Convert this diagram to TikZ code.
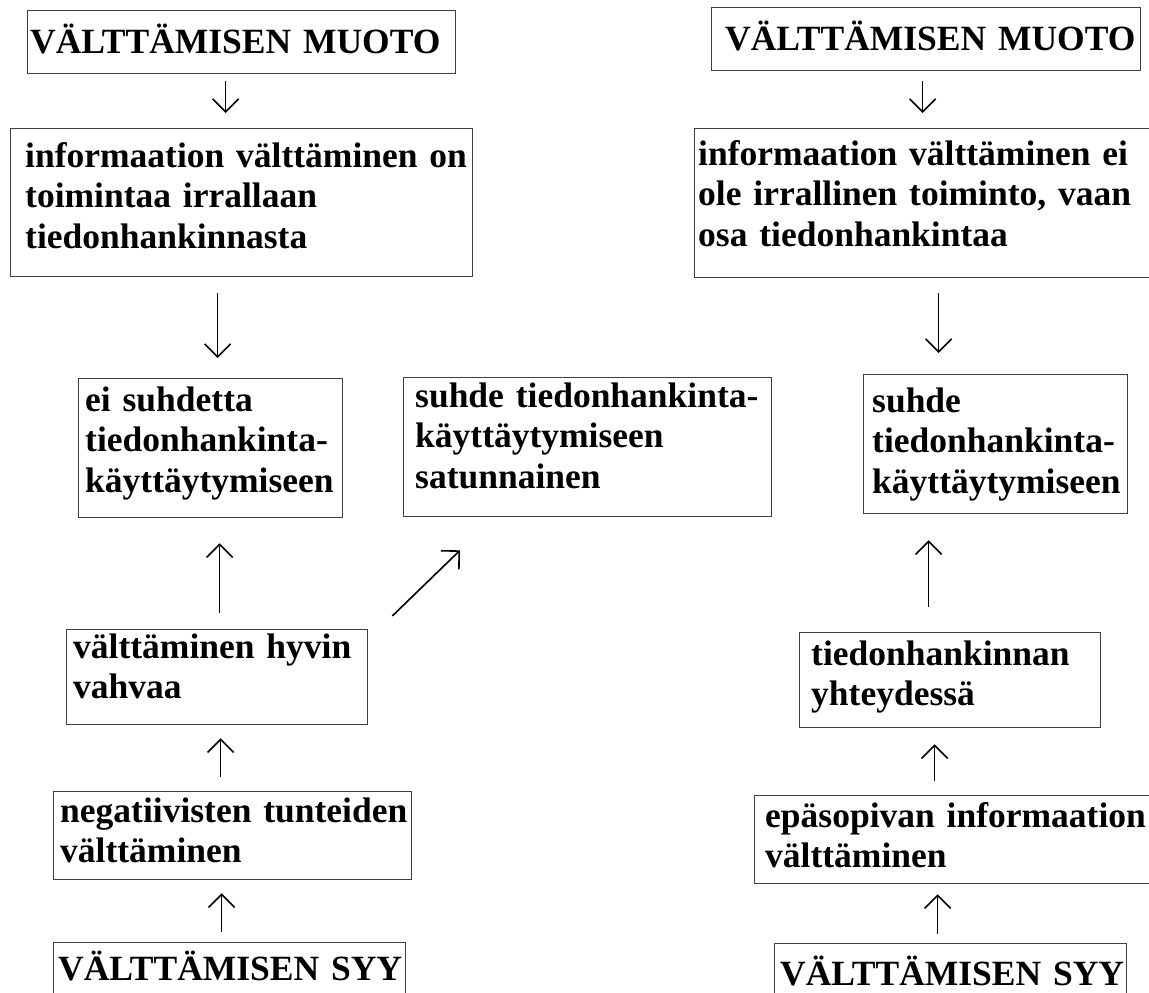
\documentclass[tikz,border=0pt]{standalone}
\usepackage{fontspec}
\setmainfont{Liberation Serif}
\usetikzlibrary{arrows.meta,calc}
\definecolor{frame}{RGB}{64,64,64}
\begin{document}
\begin{tikzpicture}[x=1pt,y=-1pt,
  box/.style={draw=frame,line width=1.3pt,inner sep=0pt,anchor=north west},
  words/.style={anchor=base west,inner sep=0pt,text width=520pt,align=left,
    font=\fontsize{35.5}{40.5}\selectfont\bfseries},
  arr/.style={line width=1.6pt,-{Straight Barb[length=13pt,width=26pt]}}]
\useasboundingbox (0,0) rectangle (1149,993);
\clip (0,0) rectangle (1149,993);

% left column: boxes
\node[box,minimum width=428pt,minimum height=63pt]  (m1) at (27,10)  {};
\node[box,minimum width=462pt,minimum height=148pt] (i1) at (10,128) {};
\node[box,minimum width=264pt,minimum height=139pt] (r1) at (78,378) {};
\node[box,minimum width=368pt,minimum height=139pt] (s)  at (403,377) {};
\node[box,minimum width=301pt,minimum height=95pt]  (v)  at (66,629) {};
\node[box,minimum width=358pt,minimum height=88pt]  (n)  at (53,791) {};
\node[box,minimum width=352pt,minimum height=58pt]  (y1) at (53,942) {};

% right column: boxes
\node[box,minimum width=429pt,minimum height=63pt]  (m2) at (711,7)  {};
\node[box,minimum width=461pt,minimum height=149pt] (i2) at (694,128) {};
\node[box,minimum width=264pt,minimum height=139pt] (r2) at (863,374) {};
\node[box,minimum width=301pt,minimum height=95pt]  (t)  at (799,632) {};
\node[box,minimum width=401pt,minimum height=88pt]  (e)  at (754,795) {};
\node[box,minimum width=352pt,minimum height=57pt]  (y2) at (774,943) {};

% texts
\node[words] (m1t) at (30,53)  {VÄLTTÄMISEN MUOTO};
\node[words] (i1t) at (25,167) {informaation välttäminen on\\toimintaa irrallaan\\tiedonhankinnasta};
\node[words] (r1t) at (85,411) {ei suhdetta\\tiedonhankinta-\\käyttäytymiseen};
\node[words] (st)  at (415,407) {suhde tiedonhankinta-\\käyttäytymiseen\\satunnainen};
\node[words] (vt)  at (73,658) {välttäminen hyvin\\vahvaa};
\node[words] (nt)  at (60,822) {negatiivisten tunteiden\\välttäminen};
\node[words] (y1t) at (58,980) {VÄLTTÄMISEN SYY};

\node[words] (m2t) at (725,50)  {VÄLTTÄMISEN MUOTO};
\node[words] (i2t) at (698,165) {informaation välttäminen ei\\ole irrallinen toiminto, vaan\\osa tiedonhankintaa};
\node[words] (r2t) at (872,412) {suhde\\tiedonhankinta-\\käyttäytymiseen};
\node[words] (tt)  at (811,665) {tiedonhankinnan\\yhteydessä};
\node[words] (et)  at (765,827) {epäsopivan informaation\\välttäminen};
\node[words] (y2t) at (780,985) {VÄLTTÄMISEN SYY};

% connectors, left column
\draw[arr] ($(m1.south)+(-16,7)$)   -- ($(i1.north)+(-16,-15)$);
\draw[arr] ($(i1.south)+(-24,16)$)  -- ($(r1.north)+(7,-20)$);
\draw[arr] ($(v.north)+(2.5,-16)$)  -- ($(r1.south)+(9,25)$);
\draw[arr] ($(v.north east)+(24,-13)$) -- ($(s.south west)+(57,33)$);
\draw[arr] ($(n.north)+(-12,-14)$)  -- ($(v.south)+(3.5,13)$);
\draw[arr] ($(y1.north)+(-8,-10)$)  -- ($(n.south)+(-11,13)$);

% connectors, right column
\draw[arr] ($(m2.south)+(-3.5,10)$) -- ($(i2.north)+(-2.5,-15)$);
\draw[arr] ($(i2.south)+(13.5,15)$) -- ($(r2.north)+(-57,-21)$);
\draw[arr] ($(t.north)+(-21.5,-25)$) -- ($(r2.south)+(-67,26)$);
\draw[arr] ($(e.north)+(-20.5,-14)$) -- ($(t.south)+(-15.5,16)$);
\draw[arr] ($(y2.north)+(-13,-9)$)  -- ($(e.south)+(-17.5,10)$);
\end{tikzpicture}
\end{document}
